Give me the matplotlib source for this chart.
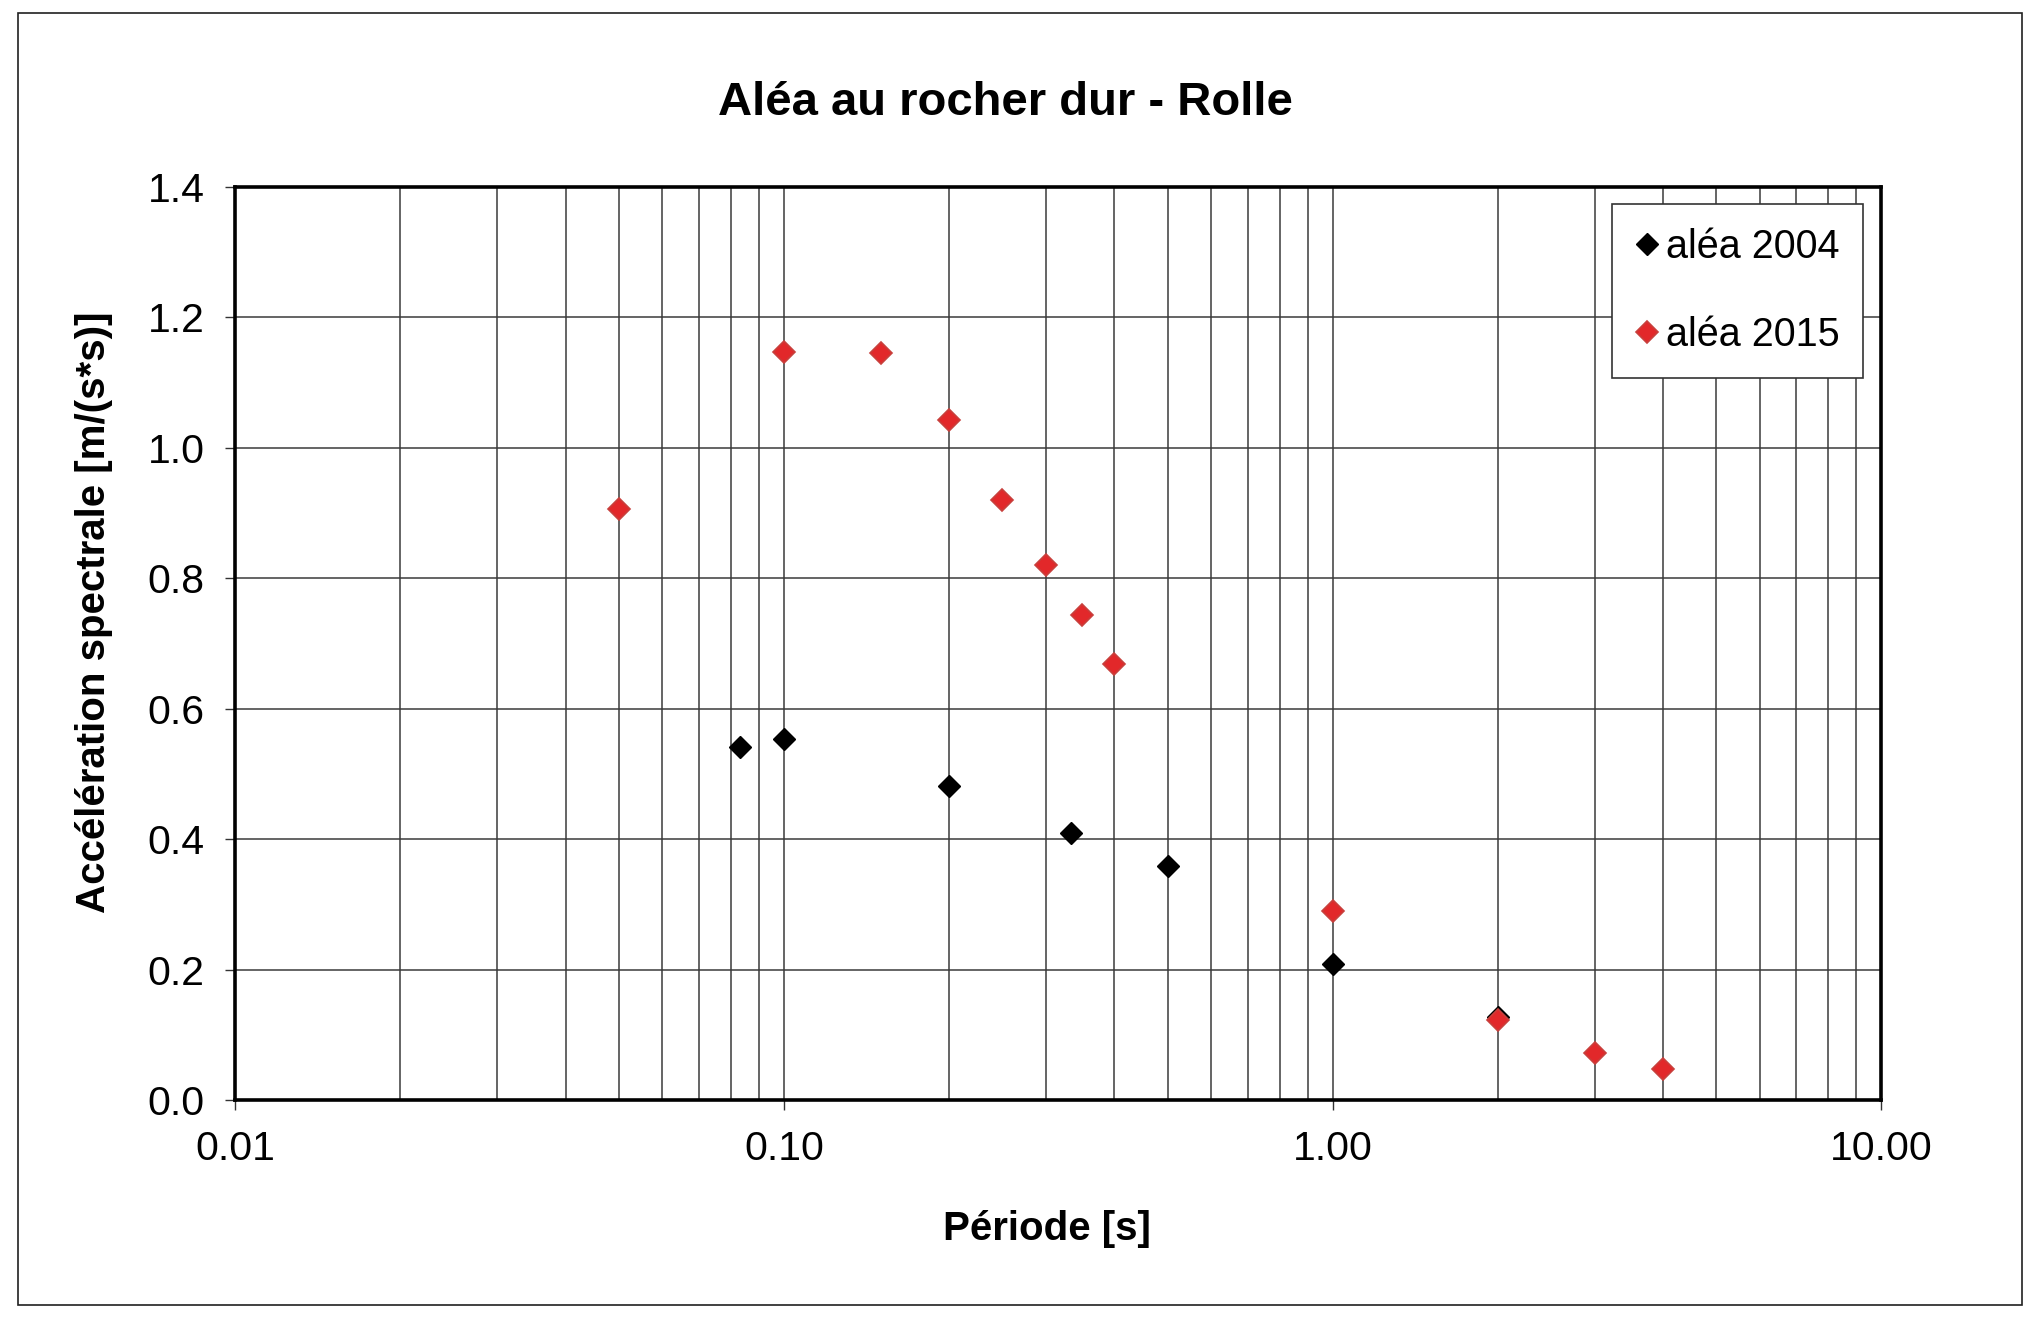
#!/usr/bin/env python3
"""Aléa au rocher dur - Rolle: spectral acceleration vs period, 2004 vs 2015."""
import matplotlib
matplotlib.use("Agg")
import matplotlib.pyplot as plt
from matplotlib.patches import Rectangle
from matplotlib.ticker import FixedLocator, FuncFormatter, LogLocator

plt.rcParams["font.family"] = ["Liberation Sans", "DejaVu Sans"]

# aléa 2004
period_2004 = [0.0833, 0.10, 0.20, 0.333, 0.50, 1.00, 2.00]
acc_2004 = [0.541, 0.554, 0.482, 0.410, 0.358, 0.209, 0.127]

# aléa 2015
period_2015 = [0.05, 0.10, 0.15, 0.20, 0.25, 0.30, 0.35, 0.40, 1.00, 2.00, 3.00, 4.00]
acc_2015 = [0.906, 1.147, 1.145, 1.042, 0.920, 0.821, 0.743, 0.669, 0.289, 0.123, 0.072, 0.048]

y_ticks = [0.0, 0.2, 0.4, 0.6, 0.8, 1.0, 1.2, 1.4]

fig = plt.figure(figsize=(20.36, 13.23), dpi=100)
ax = fig.add_axes([0.1155, 0.1686, 0.8086, 0.6901])

# outer chart border
fig.patches.append(Rectangle((0.0088, 0.0136), 0.9843, 0.9764, transform=fig.transFigure,
                             fill=False, edgecolor="#202020", linewidth=1.2))

ax.plot(period_2004, acc_2004, linestyle="none", marker="D", markersize=11,
        color="black", markeredgecolor="black", label="aléa 2004", zorder=3)
ax.plot(period_2015, acc_2015, linestyle="none", marker="D", markersize=11,
        color="#e2282a", markeredgecolor="#c8403c", markeredgewidth=1.2,
        label="aléa 2015", zorder=4)

ax.set_xscale("log")
ax.set_xlim(0.01, 10)
ax.set_ylim(0, 1.4)
ax.yaxis.set_major_locator(FixedLocator(y_ticks))
ax.yaxis.set_major_formatter(FuncFormatter(lambda v, p: f"{v:.1f}"))
ax.xaxis.set_major_locator(LogLocator(base=10, numticks=10))
ax.xaxis.set_minor_locator(LogLocator(base=10, subs=range(2, 10), numticks=20))
ax.xaxis.set_major_formatter(FuncFormatter(lambda v, p: f"{v:.2f}"))
ax.xaxis.set_minor_formatter(FuncFormatter(lambda v, p: ""))

ax.grid(True, which="both", axis="x", color="#3a3a3a", linewidth=1.1)
ax.grid(True, which="major", axis="y", color="#3a3a3a", linewidth=1.1)
ax.set_axisbelow(True)

ax.tick_params(axis="both", which="major", direction="out", length=7, width=1.0,
               labelsize=29.5, pad=15, color="#333333")
ax.tick_params(axis="x", which="minor", length=0)
for s in ax.spines.values():
    s.set_linewidth(2.6)
    s.set_color("black")

ax.set_xlabel("Période [s]", fontsize=29, fontweight="bold")
ax.set_ylabel("Accélération spectrale [m/(s*s)]", fontsize=29, fontweight="bold")
ax.xaxis.set_label_coords(0.493, -0.12)
ax.yaxis.set_label_coords(-0.074, 0.534)

fig.text(0.4937, 0.922, "Aléa au rocher dur - Rolle", fontsize=34, fontweight="bold",
         ha="center", va="center")

leg = ax.legend(loc="upper right", bbox_to_anchor=(0.9888, 0.9814), fontsize=28.5,
                frameon=True, fancybox=False, edgecolor="#333333", framealpha=1,
                labelspacing=1.27, handlelength=0.55, handletextpad=0.2,
                borderpad=0.6, borderaxespad=0, markerscale=1.0)
leg.get_frame().set_linewidth(1.2)

fig.savefig("out.png", dpi=100)
